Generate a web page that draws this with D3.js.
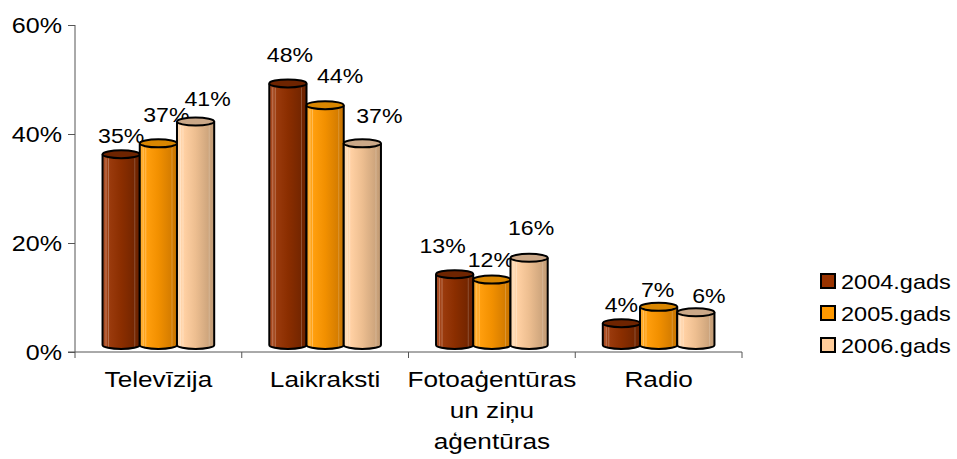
<!DOCTYPE html>
<html>
<head>
<meta charset="utf-8">
<script src="https://cdn.jsdelivr.net/npm/d3@7"></script>
<style>
  body { margin: 0; background: #fff; }
  text { font-family: "Liberation Sans", Arial, sans-serif; fill: #000; }
</style>
</head>
<body>
<svg width="957" height="459"></svg>
<script>
document.addEventListener("DOMContentLoaded", function () {

  // data
  var categories = ["Televīzija", "Laikraksti", "Fotoaģentūras un ziņu aģentūras", "Radio"];
  var categoryLines = [["Televīzija"], ["Laikraksti"], ["Fotoaģentūras", "un ziņu", "aģentūras"], ["Radio"]];
  var seriesNames = ["2004.gads", "2005.gads", "2006.gads"];
  var values2004 = [35, 48, 13, 4];
  var values2005 = [37, 44, 12, 7];
  var values2006 = [41, 37, 16, 6];
  var yTicks = [0, 20, 40, 60];

  var seriesValues = [values2004, values2005, values2006];

  // look of each series: legend colour, body gradient, top cap
  var looks = [
    { key: "#993300", stops: ["#B0532A", "#9A3A0C", "#8B2E00", "#6A2200"], top: "#6E2400" },
    { key: "#FF9900", stops: ["#FFB033", "#FF9E0D", "#F29000", "#C87400"], top: "#D98600" },
    { key: "#FFCC99", stops: ["#FFDDB8", "#FFD0A3", "#EDBE90", "#C09A74"], top: "#CBA888" }
  ];

  // label nudges (dx from cylinder centre, dy from cap centre) as placed in the original
  var labelDx = [[0, 8, 12], [2, 15, 17], [-12, -1, 2], [0, -1, 13]];
  var labelDy = [[-11, -21, -16], [-21, -22, -20], [-21, -13, -23], [-11, -10, -9]];

  var svg = d3.select("svg");
  var depth = 7, ry = 4;

  var y = d3.scaleLinear().domain([0, 60]).range([352, 25]);
  var x = d3.scaleBand().domain(categories).range([75, 742]);
  var xs = d3.scaleBand().domain(seriesNames).range([0, x.bandwidth()]).paddingOuter(0.74);

  function stretch(sel, k) {
    sel.each(function () {
      var t = d3.select(this);
      var tx = +t.attr("x") || 0;
      t.attr("transform", "translate(" + (tx * (1 - k)) + ",0) scale(" + k + ",1)");
    });
  }

  // gradients
  var defs = svg.append("defs");
  looks.forEach(function (l, i) {
    var g = defs.append("linearGradient").attr("id", "cyl" + i)
      .attr("x1", "0%").attr("x2", "100%").attr("y1", "0%").attr("y2", "0%");
    [0, 0.2, 0.5, 1].forEach(function (o, j) {
      g.append("stop").attr("offset", o).attr("stop-color", l.stops[j]);
    });
  });

  // y axis
  var yAxis = svg.append("g")
    .attr("transform", "translate(75,0)")
    .call(d3.axisLeft(y).tickValues(yTicks).tickSize(7).tickPadding(6)
      .tickFormat(function (d) { return d + "%"; }));
  yAxis.select(".domain").attr("stroke", "#555").attr("d", "M0,25V352");
  yAxis.selectAll(".tick line").attr("stroke", "#555");
  yAxis.selectAll(".tick text").style("font-size", "22px").attr("font-family", null);
  stretch(yAxis.selectAll(".tick text"), 1.14);

  // x axis
  var xAxis = svg.append("g").attr("transform", "translate(0,352)");
  xAxis.append("line").attr("x1", 68).attr("x2", 742).attr("y1", 0).attr("y2", 0).attr("stroke", "#555");
  xAxis.selectAll(".xt")
    .data(categories.map(function (c) { return x(c); }).concat([742]))
    .enter().append("line")
    .attr("x1", function (d) { return d; }).attr("x2", function (d) { return d; })
    .attr("y1", 0).attr("y2", 6).attr("stroke", "#555");

  // category labels
  categories.forEach(function (c, i) {
    var t = svg.append("g").selectAll("text")
      .data(categoryLines[i]).enter().append("text")
      .attr("x", x(c) + x.bandwidth() / 2)
      .attr("y", function (d, j) { return 387 + j * 31; })
      .attr("text-anchor", "middle")
      .style("font-size", "22px")
      .text(function (d) { return d; });
    stretch(t, 1.19);
  });

  // cylinders
  var plot = svg.append("g");
  categories.forEach(function (c, ci) {
    seriesNames.forEach(function (s, si) {
      var v = seriesValues[si][ci];
      var left = x(c) + xs(s), w = xs.bandwidth(), rx = w / 2, cx = left + rx;
      var top = y(v) - depth, bottom = y(0) - depth;
      var g = plot.append("g");
      g.append("path")
        .attr("d", "M" + left + "," + top + "L" + left + "," + bottom +
          "A" + rx + "," + ry + " 0 0 0 " + (left + w) + "," + bottom +
          "L" + (left + w) + "," + top + "Z")
        .attr("fill", "url(#cyl" + si + ")");
      // thin highlight streaks
      [3.5, 6, w - 5].forEach(function (o, k) {
        g.append("line")
          .attr("x1", left + o).attr("x2", left + o)
          .attr("y1", top + ry).attr("y2", bottom + ry - 1)
          .attr("stroke", "#fff").attr("stroke-opacity", k === 2 ? 0.25 : 0.35).attr("stroke-width", 0.8);
      });
      g.append("path")
        .attr("d", "M" + left + "," + top + "L" + left + "," + bottom +
          "A" + rx + "," + ry + " 0 0 0 " + (left + w) + "," + bottom +
          "L" + (left + w) + "," + top)
        .attr("fill", "none").attr("stroke", "#000").attr("stroke-width", 2);
      g.append("ellipse")
        .attr("cx", cx).attr("cy", top).attr("rx", rx).attr("ry", ry)
        .attr("fill", looks[si].top).attr("stroke", "#000").attr("stroke-width", 2);

      var lab = g.append("text")
        .attr("x", cx + labelDx[ci][si])
        .attr("y", top + labelDy[ci][si])
        .attr("text-anchor", "middle")
        .style("font-size", "21px")
        .text(v + "%");
      stretch(lab, 1.1);
    });
  });

  // legend
  var legend = svg.append("g").selectAll("g")
    .data(seriesNames).enter().append("g");
  legend.append("rect")
    .attr("x", 821).attr("y", function (d, i) { return 274 + i * 32; })
    .attr("width", 14).attr("height", 14)
    .attr("fill", function (d, i) { return looks[i].key; })
    .attr("stroke", "#000").attr("stroke-width", 2);
  var lt = legend.append("text")
    .attr("x", 841).attr("y", function (d, i) { return 289 + i * 32; })
    .style("font-size", "21px")
    .text(function (d) { return d; });
  stretch(lt, 1.12);

});
</script>
</body>
</html>
